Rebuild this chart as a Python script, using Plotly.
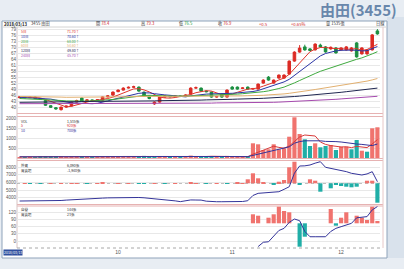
import plotly.graph_objects as go

W, H = 404, 269

# ---------------- data ----------------
days = list(range(70))
month_tick_days = [19, 41, 62]
month_tick_text = ["10", "11", "12"]

price_ticks = [79, 76, 73, 70, 67, 64, 61, 58, 55, 52, 49, 46, 43, 40]
vol_ticks = [2000, 1500, 1000, 500]
vol_tick_text = ["2000", "1500", "1000", "500"]
foreign_ticks = [8000, 7000, 6000, 5000, 4000]
foreign_tick_text = ["8000", "7000", "6000", "5000", "4000"]
dealer_ticks = [120, 90, 60, 30, 0]
dealer_tick_text = ["120", "90", "60", "30", "0"]

open_ = [45.0, 45.4, 45.0, 45.3, 44.6, 43.6, 41.0, 40.0, 39.0, 40.3,
         40.8, 42.8, 44.8, 43.4, 43.9, 43.6, 43.8, 45.4, 46.3, 48.0,
         48.8, 49.8, 50.2, 50.3, 47.8, 45.8, 41.9, 42.8, 45.3, 45.8,
         45.5, 45.9, 45.6, 46.8, 49.8, 49.8, 48.3, 47.8, 45.3, 46.8,
         45.3, 50.3, 50.3, 49.6, 50.3, 49.3, 49.3, 52.3, 55.3, 52.3,
         54.8, 54.8, 56.8, 63.3, 67.8, 70.4, 69.4, 68.9, 71.3, 70.4,
         69.4, 69.9, 68.9, 68.9, 68.4, 72.4, 66.9, 66.9, 68.9, 78.4]
close = [45.4, 45.0, 45.3, 44.6, 44.2, 41.2, 40.2, 39.4, 40.3, 40.8,
         42.8, 43.6, 43.3, 43.9, 43.6, 44.0, 45.4, 45.9, 47.8, 48.8,
         49.8, 50.2, 50.5, 48.3, 45.8, 44.6, 42.8, 45.3, 45.8, 45.5,
         45.9, 45.6, 46.4, 49.8, 50.0, 48.3, 48.0, 45.3, 45.6, 45.3,
         48.8, 49.3, 49.3, 49.9, 49.3, 49.6, 51.8, 53.8, 53.8, 53.8,
         56.3, 56.3, 63.3, 67.8, 69.8, 68.9, 68.6, 71.8, 70.4, 67.9,
         70.2, 67.4, 69.9, 70.4, 69.9, 65.4, 69.9, 68.9, 76.4, 76.9]
high = [45.7, 45.6, 45.5, 45.5, 44.8, 43.8, 41.3, 40.2, 40.5, 41.0,
        43.0, 44.0, 45.1, 44.1, 44.1, 44.3, 45.6, 46.2, 48.1, 49.1,
        50.2, 50.6, 51.0, 50.6, 48.0, 46.1, 43.2, 45.6, 46.2, 46.0,
        46.2, 46.1, 46.7, 50.2, 50.6, 50.1, 48.6, 48.0, 45.9, 47.1,
        49.2, 50.8, 50.6, 50.2, 50.6, 49.9, 52.1, 54.2, 55.8, 54.1,
        56.6, 56.7, 63.6, 68.2, 71.3, 71.5, 69.8, 72.2, 72.0, 70.8,
        70.6, 70.3, 70.2, 70.8, 70.3, 72.8, 70.2, 69.3, 76.8, 79.3]
low = [44.8, 44.8, 44.9, 44.4, 44.0, 40.9, 39.9, 39.0, 38.6, 40.0,
       40.6, 42.6, 43.0, 43.2, 43.4, 43.4, 43.6, 45.1, 46.0, 47.8,
       48.6, 49.6, 50.0, 48.0, 45.5, 44.2, 41.4, 42.5, 45.0, 45.2,
       45.3, 45.3, 45.4, 46.6, 49.5, 48.0, 47.7, 45.0, 45.0, 45.0,
       45.1, 49.0, 49.0, 49.3, 49.0, 49.0, 49.1, 52.0, 53.5, 52.0,
       54.5, 54.5, 56.5, 63.0, 67.5, 68.5, 68.2, 68.6, 70.0, 67.5,
       69.0, 67.0, 68.6, 68.6, 68.1, 65.0, 66.6, 66.5, 68.6, 76.5]

ma5 = [45.6, 45.4, 45.3, 45.1, 44.9, 44.1, 43.1, 42.0, 41.1, 40.4,
       40.7, 41.4, 42.2, 42.9, 43.5, 43.7, 44.0, 44.6, 45.3, 46.4,
       47.5, 48.5, 49.4, 49.5, 48.9, 47.9, 46.4, 45.3, 44.9, 44.8,
       45.1, 45.6, 45.8, 46.6, 47.5, 48.0, 48.5, 48.3, 47.4, 46.5,
       46.6, 46.8, 47.7, 48.7, 49.3, 49.5, 49.9, 50.8, 51.7, 52.6,
       53.9, 54.8, 56.7, 59.5, 62.7, 65.5, 68.0, 69.3, 70.1, 70.2,
       69.7, 69.6, 69.5, 69.1, 69.2, 69.6, 68.6, 69.1, 70.4, 71.7]
ma10 = [45.2, 45.1, 45.0, 44.9, 44.8, 44.6, 44.3, 43.8, 43.3, 42.7,
        42.4, 42.3, 42.1, 42.0, 42.0, 42.2, 42.7, 43.4, 44.1, 44.7,
        45.4, 46.1, 46.7, 47.2, 47.4, 47.4, 47.0, 46.6, 46.4, 46.2,
        45.9, 45.5, 45.4, 45.9, 46.3, 46.6, 46.8, 46.9, 46.9, 46.9,
        47.0, 47.2, 47.4, 47.6, 47.7, 48.1, 48.6, 49.5, 50.3, 51.1,
        52.0, 52.9, 54.2, 56.1, 58.0, 60.0, 62.1, 64.0, 65.9, 67.1,
        67.9, 68.4, 68.7, 68.9, 68.8, 68.7, 68.4, 68.5, 69.6, 70.6]
ma20 = [44.6, 44.5, 44.5, 44.4, 44.3, 44.2, 44.0, 43.8, 43.6, 43.4,
        43.3, 43.2, 43.2, 43.3, 43.4, 43.5, 43.6, 43.8, 44.1, 44.4,
        44.8, 45.2, 45.6, 45.9, 46.1, 46.2, 46.2, 46.1, 45.9, 45.8,
        45.7, 45.7, 45.8, 45.9, 46.0, 46.1, 46.1, 46.1, 46.1, 46.2,
        46.4, 46.6, 46.8, 47.0, 47.2, 47.4, 47.7, 48.0, 48.4, 48.9,
        49.6, 50.3, 51.2, 52.4, 53.6, 54.9, 56.0, 57.1, 58.2, 59.1,
        60.0, 60.9, 61.8, 62.6, 63.4, 64.2, 64.9, 65.8, 66.9, 68.0]
ma60 = [45.6, 45.6, 45.5, 45.5, 45.5, 45.4, 45.4, 45.3, 45.3, 45.2,
        45.2, 45.2, 45.2, 45.2, 45.2, 45.2, 45.2, 45.3, 45.3, 45.4,
        45.4, 45.5, 45.5, 45.6, 45.6, 45.6, 45.6, 45.6, 45.6, 45.6,
        45.6, 45.6, 45.6, 45.6, 45.7, 45.7, 45.7, 45.7, 45.7, 45.7,
        45.8, 45.8, 45.9, 45.9, 46.0, 46.0, 46.1, 46.2, 46.4, 46.5,
        46.7, 46.9, 47.2, 47.5, 47.9, 48.3, 48.7, 49.1, 49.5, 49.9,
        50.3, 50.7, 51.1, 51.5, 51.9, 52.4, 52.8, 53.3, 53.9, 54.6]
ma120 = [42.7, 42.7, 42.8, 42.8, 42.8, 42.9, 42.9, 42.9, 43.0, 43.0,
         43.0, 43.0, 43.1, 43.1, 43.1, 43.1, 43.2, 43.2, 43.2, 43.2,
         43.3, 43.3, 43.3, 43.3, 43.4, 43.4, 43.4, 43.5, 43.5, 43.5,
         43.6, 43.6, 43.7, 43.7, 43.8, 43.8, 43.9, 43.9, 44.0, 44.0,
         44.1, 44.2, 44.3, 44.3, 44.4, 44.5, 44.6, 44.7, 44.8, 44.9,
         45.0, 45.2, 45.4, 45.6, 45.8, 46.0, 46.2, 46.4, 46.6, 46.8,
         47.1, 47.4, 47.7, 48.0, 48.3, 48.6, 48.9, 49.2, 49.5, 49.8]
ma240 = [42.0, 42.0, 42.0, 42.0, 42.0, 42.1, 42.1, 42.1, 42.1, 42.1,
         42.1, 42.1, 42.1, 42.1, 42.1, 42.1, 42.1, 42.2, 42.2, 42.2,
         42.2, 42.2, 42.2, 42.2, 42.2, 42.2, 42.2, 42.2, 42.2, 42.3,
         42.3, 42.3, 42.3, 42.3, 42.3, 42.3, 42.3, 42.3, 42.4, 42.4,
         42.4, 42.4, 42.4, 42.4, 42.4, 42.5, 42.5, 42.5, 42.6, 42.7,
         42.8, 42.9, 43.0, 43.1, 43.2, 43.4, 43.5, 43.6, 43.7, 43.9,
         44.0, 44.2, 44.4, 44.6, 44.8, 45.0, 45.1, 45.3, 45.5, 45.7]

volume = [50, 40, 45, 50, 55, 95, 70, 60, 65, 50,
          80, 65, 55, 45, 40, 50, 75, 60, 85, 70,
          90, 65, 60, 100, 105, 70, 65, 95, 55, 45,
          40, 45, 55, 120, 80, 75, 55, 100, 60, 65,
          105, 70, 60, 50, 60, 735, 685, 400, 435, 685,
          435, 485, 1065, 2035, 1200, 935, 600, 735, 535, 600,
          650, 400, 565, 565, 435, 900, 365, 315, 1485, 1535]
vol_ma5 = [58, 55, 52, 50, 48, 57, 63, 66, 68, 68,
           65, 66, 63, 60, 56, 51, 53, 56, 62, 68,
           76, 74, 74, 76, 80, 82, 80, 88, 80, 75,
           62, 58, 50, 60, 68, 74, 76, 86, 80, 78,
           79, 79, 74, 74, 64, 190, 300, 400, 480, 590,
           530, 490, 600, 830, 1050, 1150, 1130, 1100, 800, 680,
           620, 580, 550, 560, 520, 580, 550, 520, 700, 920]
vol_ma10 = [60, 59, 58, 57, 56, 57, 59, 61, 62, 62,
            62, 63, 64, 65, 65, 63, 61, 60, 60, 60,
            62, 64, 65, 67, 69, 71, 73, 76, 77, 77,
            73, 71, 68, 70, 72, 73, 75, 76, 75, 75,
            73, 73, 72, 71, 70, 130, 190, 250, 300, 360,
            420, 470, 560, 740, 820, 860, 860, 880, 860, 830,
            840, 820, 800, 760, 720, 700, 680, 640, 620, 700]

foreign_hold = [3580, 3580, 3590, 3590, 3580, 3580, 3590, 3600, 3650, 3700,
                3750, 3800, 3830, 3860, 3900, 3930, 3960, 3990, 4010, 4030,
                4050, 4060, 4060, 4040, 4000, 3950, 3870, 3800, 3740, 3710,
                3600, 3500, 3640, 3720, 3710, 3700, 3560, 3500, 3490, 3490,
                3490, 3500, 3500, 3520, 3620, 4300, 4580, 4620, 4660, 4720,
                4790, 5100, 5440, 7200, 8130, 8150, 8260, 8500, 8690, 7960,
                7830, 7720, 7610, 7400, 7180, 7050, 6960, 7100, 7390, 6090]
foreign_net = [0, 10, -10, 0, -40, 0, 10, 0, 20, 0,
               10, 30, 0, -10, 0, 10, 50, 0, 0, 10,
               0, 10, 0, -40, -20, 0, 10, 0, -50, 0,
               10, 0, 0, 60, 20, 0, -10, 0, 10, 0,
               -70, 0, 50, 20, 400, 1000, 500, 60, 0, -120,
               160, 330, 1600, 2160, -170, 0, 400, 260, -840, 0,
               -500, -170, -270, -340, -400, -340, 0, 260, 260, -1940]

dealer_hold = [None, None, None, None, None, None, None, None, None, None,
               None, None, None, None, None, None, None, None, None, None,
               None, None, None, None, None, None, None, None, None, None,
               None, None, None, None, None, None, None, None, None, None,
               None, None, None, None, None, None, -23, -5, -3, 20,
               44, 53, 78, 92, 85, 40, 18, 18, 18, 18,
               40, 53, 60, 67, 74, 97, 100, 102, 130, 144]
dealer_net = [0, 0, 0, 0, 0, 0, 0, 0, 0, 0,
              0, 0, 0, 0, 0, 0, 0, 0, 0, 0,
              0, 0, 0, 0, 0, 0, 0, 0, 0, 0,
              0, 0, 0, 0, 0, 0, 0, 0, 0, 0,
              0, 0, 0, 0, 0, 90, 76, 0, 56, 90,
              166, 123, 110, 0, -234, -134, 0, 0, 0, 0,
              143, -24, 56, 110, 0, 76, 56, 33, 166, 23]

ma_names = ["5日", "10日", "20日", "60日", "120日", "240日"]
ma_series = [ma5, ma10, ma20, ma60, ma120, ma240]

# ---------------- styles ----------------
RED_C, GRN_C = "#dc2b24", "#1c8f40"
BAR_UP, BAR_DN = "#f0736e", "#20aea7"
MA_COLORS = ["#e0352c", "#2b35a5", "#3faa3f", "#e2b070", "#1f2650", "#a64aae"]
NAVY = "#34349a"
GRID = "#e8e8e8"
FONT = "Liberation Sans, Noto Sans CJK TC"
CJK = "Noto Sans CJK TC"

XD = [17 / W, 380 / W]


def ydom(top, bottom):
    return [1 - bottom / H, 1 - top / H]


vol_colors = []
for i in range(len(volume)):
    up = close[i] >= (close[i - 1] if i > 0 else open_[i])
    vol_colors.append(BAR_UP if up else BAR_DN)
fn_colors = [BAR_UP if v >= 0 else BAR_DN for v in foreign_net]
dn_colors = [BAR_UP if v >= 0 else BAR_DN for v in dealer_net]

fig = go.Figure()

fig.add_trace(go.Candlestick(
    x=days, open=open_, high=high, low=low, close=close,
    increasing=dict(line=dict(color=RED_C, width=1), fillcolor=RED_C),
    decreasing=dict(line=dict(color=GRN_C, width=1), fillcolor=GRN_C),
    whiskerwidth=0, xaxis="x", yaxis="y", hoverinfo="skip"))
for s, c in zip(ma_series, MA_COLORS):
    fig.add_trace(go.Scatter(x=days, y=s, mode="lines", line=dict(color=c, width=1),
                             xaxis="x", yaxis="y", hoverinfo="skip"))

fig.add_trace(go.Bar(x=days, y=volume, marker=dict(color=vol_colors, line=dict(width=0)),
                     width=0.8, xaxis="x2", yaxis="y2", hoverinfo="skip"))
fig.add_trace(go.Scatter(x=days, y=vol_ma5, mode="lines", line=dict(color="#d83a3a", width=1),
                         xaxis="x2", yaxis="y2", hoverinfo="skip"))
fig.add_trace(go.Scatter(x=days, y=vol_ma10, mode="lines", line=dict(color=NAVY, width=1),
                         xaxis="x2", yaxis="y2", hoverinfo="skip"))

fig.add_trace(go.Bar(x=days, y=foreign_net, marker=dict(color=fn_colors, line=dict(width=0)),
                     width=0.8, xaxis="x3", yaxis="y3", hoverinfo="skip"))
fig.add_trace(go.Scatter(x=days, y=foreign_hold, mode="lines", line=dict(color=NAVY, width=1),
                         xaxis="x3", yaxis="y5", hoverinfo="skip"))

fig.add_trace(go.Bar(x=days, y=dealer_net, marker=dict(color=dn_colors, line=dict(width=0)),
                     width=0.8, xaxis="x4", yaxis="y4", hoverinfo="skip"))
fig.add_trace(go.Scatter(x=days, y=dealer_hold, mode="lines", line=dict(color=NAVY, width=1),
                         xaxis="x4", yaxis="y6", hoverinfo="skip", connectgaps=False))


def xa(anchor, labels=False):
    d = dict(domain=XD, range=[-0.5, 69.5], anchor=anchor, showgrid=False, zeroline=False,
             showticklabels=labels, ticks="", fixedrange=True, showline=False)
    if labels:
        d.update(tickmode="array", tickvals=month_tick_days, ticktext=month_tick_text,
                 tickfont=dict(size=5, color="#555", family=FONT), ticklen=0)
    return d


def ya(anchor, dom, rng, tickvals=None, ticktext=None, show=True, grid=True):
    d = dict(anchor=anchor, domain=dom, range=rng, zeroline=False, fixedrange=True,
             showgrid=grid, gridcolor=GRID, gridwidth=1, ticks="",
             showticklabels=show, tickfont=dict(size=4.5, color="#555", family=FONT),
             showline=False)
    if tickvals is not None:
        d.update(tickmode="array", tickvals=tickvals)
        if ticktext is not None:
            d["ticktext"] = ticktext
    return d


PRICE_DOM = ydom(27, 113)
VOL_DOM = ydom(117, 158)
F_DOM = ydom(161, 204)
D_DOM = ydom(206, 248)

layout = dict(
    width=W, height=H, margin=dict(l=0, r=0, t=0, b=0),
    paper_bgcolor="#e8edf3", plot_bgcolor="rgba(0,0,0,0)",
    showlegend=False, bargap=0.2,
    font=dict(family=FONT, size=5, color="#444"),
    xaxis=dict(xa("y"), rangeslider=dict(visible=False)),
    xaxis2=xa("y2"), xaxis3=xa("y3"), xaxis4=xa("y4", labels=True),
    yaxis=ya("x", PRICE_DOM, [37.35, 80.35], price_ticks),
    yaxis2=ya("x2", VOL_DOM, [0, 2050], vol_ticks, vol_tick_text),
    yaxis3=ya("x3", F_DOM, [-2070, 2230], show=False, grid=False),
    yaxis5=dict(ya("x3", F_DOM, [3194, 8779], foreign_ticks, foreign_tick_text), overlaying="y3"),
    yaxis4=ya("x4", D_DOM, [-247, 173], show=False, grid=False),
    yaxis6=dict(ya("x4", D_DOM, [-29, 146.3], dealer_ticks, dealer_tick_text), overlaying="y4"),
)

shapes = []
shapes.append(dict(type="rect", xref="paper", yref="paper", x0=387 / W, x1=1, y0=1 - 258 / H, y1=1 - 17 / H,
                   fillcolor="#d9e2ec", line=dict(width=0), layer="below"))
shapes.append(dict(type="rect", xref="paper", yref="paper", x0=2 / W, x1=387 / W, y0=1 - 258 / H, y1=1 - 21 / H,
                   fillcolor="white", line=dict(color="#8fa3ba", width=1), layer="below"))
shapes.append(dict(type="line", xref="paper", yref="paper", x0=2 / W, x1=387 / W, y0=1 - 27 / H, y1=1 - 27 / H,
                   line=dict(color="#d4d4d4", width=1), layer="below"))
for yy in [113.5, 116.5, 158.5, 160.5, 204.5, 206.0]:
    shapes.append(dict(type="line", xref="paper", yref="paper", x0=17 / W, x1=383 / W, y0=1 - yy / H, y1=1 - yy / H,
                       line=dict(color="#e6b2b2", width=1), layer="below"))
shapes.append(dict(type="line", xref="paper", yref="paper", x0=17 / W, x1=17 / W, y0=1 - 248 / H, y1=1 - 27 / H,
                   line=dict(color="#d9c4c4", width=1), layer="below"))
shapes.append(dict(type="line", xref="paper", yref="paper", x0=383 / W, x1=383 / W, y0=1 - 248 / H, y1=1 - 27 / H,
                   line=dict(color="#e6c8c8", width=1), layer="below"))
shapes.append(dict(type="line", xref="paper", yref="y3", x0=17 / W, x1=383 / W, y0=0, y1=0,
                   line=dict(color="#b0b0b0", width=1, dash="dot"), layer="below"))
shapes.append(dict(type="line", xref="paper", yref="paper", x0=17 / W, x1=383 / W, y0=1 - 248 / H, y1=1 - 248 / H,
                   line=dict(color="#a8a8a8", width=1, dash="dot"), layer="below"))
layout["shapes"] = shapes

ann = []


def txt(x, y, s, color="#333", size=5, anchor="left", family=CJK, **kw):
    a = dict(x=x / W, y=1 - y / H, xref="paper", yref="paper", text=s, showarrow=False,
             xanchor=anchor, yanchor="middle", borderpad=0,
             font=dict(size=size, color=color, family=family))
    a.update(kw)
    ann.append(a)


# title
txt(398, 9.5, "<b>由田(3455)</b>", color="#6987ab", size=15, anchor="right")

# header row
hy = 24
HS = 4.2
txt(3, hy, "<b>2018/03/13</b>", color="#222", size=HS)
txt(30, hy, "3455 由田", color="#333", size=HS)
txt(95, hy, "開 <span style='color:#d0201a'>78.4</span>", size=HS)
txt(140, hy, "高 <span style='color:#d0201a'>79.3</span>", size=HS)
txt(178, hy, "低 <span style='color:#139a3a'>76.5</span>", size=HS)
txt(217, hy, "收 <span style='color:#d0201a'>76.9</span>", size=HS)
txt(258, hy, "+0.5", color="#d0201a", size=HS)
txt(290, hy, "+0.65%", color="#d0201a", size=HS)
txt(325, hy, "量 1535張", color="#333", size=HS)
txt(375, hy, "日線", color="#333", size=HS)

LS = 3.5
LG = 4.8
# MA legend
ma_last = [ma5[-1], ma10[-1], ma20[-1], ma60[-1], ma120[-1], ma240[-1]]
for k, (nm, c, v) in enumerate(zip(ma_names, MA_COLORS, ma_last)):
    yy = 31.5 + k * LG
    txt(20, yy, nm, color=c, size=LS)
    txt(66, yy, f"{v:.2f}↑", color=c, size=LS)

# volume legend
txt(20, 121, "VOL", color="#333", size=LS)
txt(20, 121 + LG, "5", color="#d83a3a", size=LS)
txt(20, 121 + 2 * LG, "10", color=NAVY, size=LS)
txt(66, 121, f"{volume[-1]:,}張", color="#333", size=LS)
txt(66, 121 + LG, f"{vol_ma5[-1]:,}張", color="#d83a3a", size=LS)
txt(66, 121 + 2 * LG, f"{vol_ma10[-1]:,}張", color=NAVY, size=LS)

# foreign legend
txt(20, 165.5, "外資", color="#333", size=LS)
txt(20, 165.5 + LG, "買賣超", color="#333", size=LS)
txt(66, 165.5, f"{foreign_hold[-1]:,}張", color="#333", size=LS)
txt(66, 165.5 + LG, f"{foreign_net[-1]:,}張", color="#333", size=LS)

# dealer legend
txt(20, 209.5, "自營", color="#333", size=LS)
txt(20, 209.5 + LG, "買賣超", color="#333", size=LS)
txt(66, 209.5, f"{dealer_hold[-1]}張", color="#333", size=LS)
txt(66, 209.5 + LG, f"{dealer_net[-1]}張", color="#333", size=LS)

# date box bottom-left
txt(3, 252.5, "2018/03/13", color="white", size=3.5, bgcolor="#2f4f9e")

layout["annotations"] = ann
fig.update_layout(**layout)
fig.write_html("out.html")
